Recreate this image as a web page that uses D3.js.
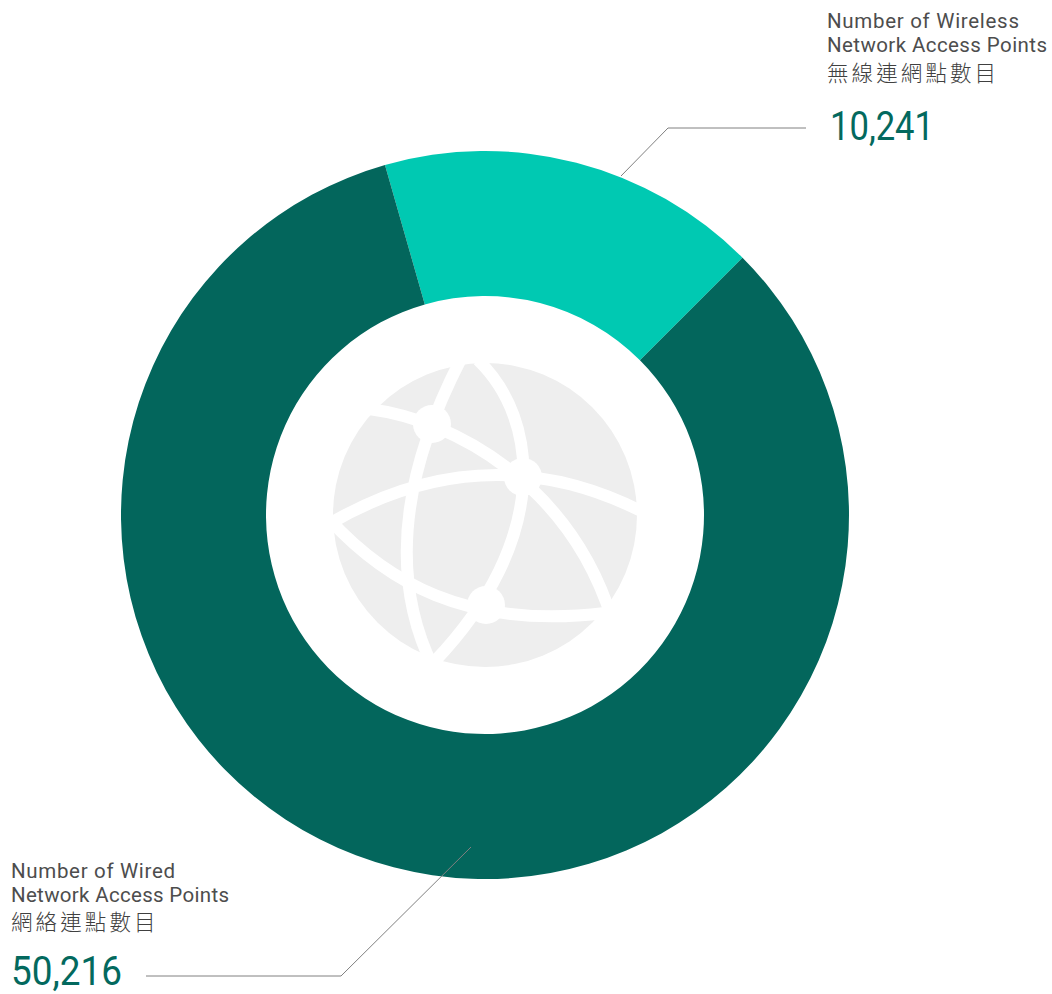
<!DOCTYPE html>
<html>
<head>
<meta charset="utf-8">
<script src="https://cdn.jsdelivr.net/npm/d3@7"></script>
<style>
    html, body { margin: 0; padding: 0; background: #fff; }
    svg { display: block; }
    .label { font-family: Roboto, "Noto Sans CJK TC", sans-serif; font-size: 20.5px; fill: #4d4d4d; }
    .label-zh { font-family: "Noto Sans CJK TC", sans-serif; font-size: 21.5px; font-weight: 300; fill: #404040; letter-spacing: 3.1px; }
    .value { font-family: Roboto, sans-serif; font-size: 41px; fill: #03695e; }
</style>
</head>
<body>
<div id="chart"></div>
<script>
const categories = ['Wireless', 'Wired'];
const values = [10241, 50216];
const colors = ['#00c9b2', '#03665c'];
const labelLines = [
    ['Number of Wireless', 'Network Access Points'],
    ['Number of Wired', 'Network Access Points']
];
const labelsZh = ['無線連網點數目', '網絡連點數目'];

const width = 1052;
const height = 994;
const cx = 485;
const cy = 515;
const outerR = 364;
const innerR = 219;
const startDeg = -15.95;

const svg = d3.select('#chart').append('svg')
    .attr('width', width)
    .attr('height', height);

const startAngle = startDeg * Math.PI / 180;
const pie = d3.pie().sort(null).startAngle(startAngle).endAngle(startAngle + 2 * Math.PI);
const arc = d3.arc().innerRadius(innerR).outerRadius(outerR);

const ring = svg.append('g').attr('transform', `translate(${cx},${cy})`);
ring.selectAll('path')
    .data(pie(values))
    .enter().append('path')
    .attr('d', arc)
    .attr('fill', (d, i) => colors[i]);

// globe icon in the hole, offsets from the centre
const globeR = 152;
const globeCurves = [
    'M-156,9 Q0,-82 156,-4',
    'M-156,4 C-100,65 -20,115 120,98',
    'M-24,-156 Q-116,22 -52,152',
    'M-7,-155 C55,-95 65,25 -50,146',
    'M-116,-106 C-30,-95 85,-30 127,104'
];
const globeNodes = [[-53, -91], [38, -38], [1, 90]];

const globe = svg.append('g').attr('transform', `translate(${cx},${cy})`);
globe.append('circle').attr('r', globeR).attr('fill', '#eeeeee');
globe.selectAll('.meridian')
    .data(globeCurves)
    .enter().append('path')
    .attr('class', 'meridian')
    .attr('d', d => d)
    .attr('fill', 'none')
    .attr('stroke', '#fff')
    .attr('stroke-width', 12);
globe.selectAll('circle.node')
    .data(globeNodes)
    .enter().append('circle')
    .attr('class', 'node')
    .attr('cx', d => d[0])
    .attr('cy', d => d[1])
    .attr('r', 19)
    .attr('fill', '#fff');

// leader lines
const leaders = [
    [[621, 176], [668, 128], [806, 128]],
    [[471, 847], [341, 976], [146, 976]]
];
svg.selectAll('.leader')
    .data(leaders)
    .enter().append('path')
    .attr('class', 'leader')
    .attr('d', d3.line())
    .attr('fill', 'none')
    .attr('stroke', '#808080')
    .attr('stroke-width', 1);

const blocks = [
    { x: 827, base: 28, zhY: 81, valueX: 830, valueY: 140, lineWidths: [192, 220], valueWidth: 104 },
    { x: 11, base: 878, zhY: 930, valueX: 11, valueY: 985, lineWidths: [164, 218], valueWidth: 111 }
];

const labels = svg.selectAll('.block')
    .data(categories)
    .enter().append('g')
    .attr('class', 'block');

labels.each(function (name, i) {
    const g = d3.select(this);
    const b = blocks[i];
    labelLines[i].forEach((line, j) => {
        g.append('text')
            .attr('class', 'label')
            .attr('x', b.x)
            .attr('y', b.base + j * 24)
            .attr('textLength', b.lineWidths[j])
            .attr('lengthAdjust', 'spacing')
            .text(line);
    });
    g.append('text')
        .attr('class', 'label-zh')
        .attr('x', b.x)
        .attr('y', b.zhY)
        .text(labelsZh[i]);
    // the original digits are narrow, so squeeze the glyphs
    g.append('text')
        .attr('class', 'value')
        .attr('x', b.valueX)
        .attr('y', b.valueY)
        .attr('textLength', b.valueWidth)
        .attr('lengthAdjust', 'spacingAndGlyphs')
        .text(d3.format(',')(values[i]));
});
</script>
</body>
</html>
